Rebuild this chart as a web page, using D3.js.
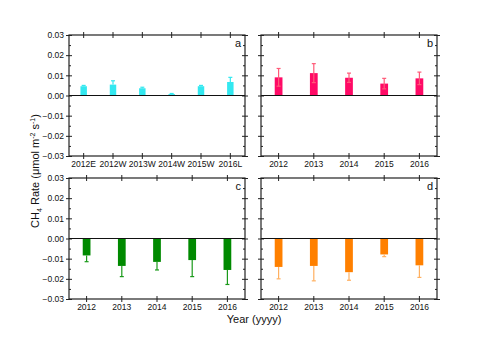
<!DOCTYPE html>
<html>
<head>
<meta charset="utf-8">
<script src="https://cdn.jsdelivr.net/npm/d3@7"></script>
<style>
    body { margin: 0; background: #fff; }
    text { font-family: Arial, "Liberation Sans", sans-serif; fill: #111; }
</style>
</head>
<body>
<div id="chart-area"></div>
<script>
const FIGURE = { WIDTH: 500, HEIGHT: 349 };
const PANEL = { WIDTH: 176, HEIGHT: 121 };
const COLS = [69, 261];
const ROWS = [35, 178];

// data
const seasonsA = ["2012E", "2012W", "2013W", "2014W", "2015W", "2016L"];
const years = ["2012", "2013", "2014", "2015", "2016"];
const ratesA = [0.0046, 0.0054, 0.0036, 0.0007, 0.0046, 0.0067];
const errorsA = [0.0004, 0.0019, 0.0005, 0.0003, 0.0004, 0.0023];
const ratesB = [0.0090, 0.0111, 0.0088, 0.0059, 0.0085];
const errorsB = [0.0044, 0.0047, 0.0023, 0.0026, 0.0031];
const ratesC = [-0.0084, -0.0136, -0.0116, -0.0107, -0.0156];
const errorsC = [0.0031, 0.0053, 0.0040, 0.0082, 0.0072];
const ratesD = [-0.0141, -0.0136, -0.0167, -0.0079, -0.0133];
const errorsD = [0.0059, 0.0074, 0.0040, 0.0011, 0.0060];
const yTicks = [-0.03, -0.02, -0.01, 0, 0.01, 0.02, 0.03];
const yMinor = [-0.025, -0.015, -0.005, 0.005, 0.015, 0.025];

const panels = [
    { label: "a", cats: seasonsA, vals: ratesA, errs: errorsA, col: 0, row: 0, fill: "#33e8f0", err: "#33e8f0", both: false },
    { label: "b", cats: years, vals: ratesB, errs: errorsB, col: 1, row: 0, fill: "#ff0a66", err: "#ff5a78", both: true },
    { label: "c", cats: years, vals: ratesC, errs: errorsC, col: 0, row: 1, fill: "#008a00", err: "#1a9a1a", both: false },
    { label: "d", cats: years, vals: ratesD, errs: errorsD, col: 1, row: 1, fill: "#ff8000", err: "#ffb060", both: false }
];

let svg = d3.select("#chart-area")
    .append("svg")
        .attr("width", FIGURE.WIDTH)
        .attr("height", FIGURE.HEIGHT);

let y = d3.scaleLinear()
    .domain([-0.03, 0.03])
    .range([PANEL.HEIGHT, 0]);

panels.forEach(p => {
    let g = svg.append("g")
        .attr("transform", `translate(${COLS[p.col]}, ${ROWS[p.row]})`);

    let x = d3.scaleBand()
        .domain(p.cats)
        .range([0, PANEL.WIDTH])
        .paddingInner(0.78)
        .paddingOuter(0.39);

    // ticks crossing the frame: outward with labels, inward without
    const addAxis = (axisFn, tf, vals, size, fmt) => {
        let ax = axisFn.tickSize(size).tickPadding(2);
        if (vals) ax.tickValues(vals);
        ax.tickFormat(fmt);
        let a = g.append("g").attr("transform", tf).call(ax);
        a.select(".domain").remove();
        a.selectAll("line").attr("stroke", "#222");
        a.selectAll("text").attr("font-size", "8.5px").attr("fill", "#111");
        return a;
    };

    addAxis(d3.axisBottom(x), `translate(0, ${PANEL.HEIGHT})`, null, 3, d => d);
    addAxis(d3.axisBottom(x), `translate(0, ${PANEL.HEIGHT})`, null, -3, "");
    addAxis(d3.axisTop(x), "translate(0, 0)", null, 3, "");
    addAxis(d3.axisTop(x), "translate(0, 0)", null, -3, "");

    let yFmt = p.col === 0 ? d3.format(".2f") : "";
    addAxis(d3.axisLeft(y), "translate(0, 0)", yTicks, 3, yFmt);
    addAxis(d3.axisLeft(y), "translate(0, 0)", yTicks, -3, "");
    addAxis(d3.axisLeft(y), "translate(0, 0)", yMinor, -2, "");
    addAxis(d3.axisRight(y), `translate(${PANEL.WIDTH}, 0)`, yTicks, 3, "");
    addAxis(d3.axisRight(y), `translate(${PANEL.WIDTH}, 0)`, yTicks, -3, "");
    addAxis(d3.axisRight(y), `translate(${PANEL.WIDTH}, 0)`, yMinor, -2, "");

    let data = p.cats.map((c, i) => ({ cat: c, v: p.vals[i], e: p.errs[i] }));

    // bars
    g.selectAll("rect.bar")
        .data(data)
        .enter()
        .append("rect")
            .attr("class", "bar")
            .attr("x", d => x(d.cat))
            .attr("width", x.bandwidth())
            .attr("y", d => y(Math.max(0, d.v)))
            .attr("height", d => Math.abs(y(d.v) - y(0)))
            .attr("fill", p.fill);

    // error bars
    const tip = d => d.v + Math.sign(d.v) * d.e;
    const base = d => p.both ? d.v - Math.sign(d.v) * d.e : d.v;
    let eg = g.selectAll("g.err")
        .data(data)
        .enter()
        .append("g")
            .attr("class", "err");
    eg.append("line")
        .attr("x1", d => x(d.cat) + x.bandwidth() / 2)
        .attr("x2", d => x(d.cat) + x.bandwidth() / 2)
        .attr("y1", d => y(base(d)))
        .attr("y2", d => y(tip(d)))
        .attr("stroke", p.err)
        .attr("stroke-width", 1.2);
    eg.append("line")
        .attr("x1", d => x(d.cat) + x.bandwidth() / 2 - 2)
        .attr("x2", d => x(d.cat) + x.bandwidth() / 2 + 2)
        .attr("y1", d => y(tip(d)))
        .attr("y2", d => y(tip(d)))
        .attr("stroke", p.err)
        .attr("stroke-width", 1.2);
    if (p.both) {
        eg.append("line")
            .attr("x1", d => x(d.cat) + x.bandwidth() / 2 - 2)
            .attr("x2", d => x(d.cat) + x.bandwidth() / 2 + 2)
            .attr("y1", d => y(base(d)))
            .attr("y2", d => y(base(d)))
            .attr("stroke", p.err)
            .attr("stroke-width", 1.2);
    }

    // zero line
    g.append("line")
        .attr("x1", 0)
        .attr("x2", PANEL.WIDTH)
        .attr("y1", y(0))
        .attr("y2", y(0))
        .attr("stroke", "#111")
        .attr("stroke-width", 1.2);

    // frame
    g.append("rect")
        .attr("width", PANEL.WIDTH)
        .attr("height", PANEL.HEIGHT)
        .attr("fill", "none")
        .attr("stroke", "#222")
        .attr("stroke-width", 1.2);

    g.append("text")
        .attr("x", PANEL.WIDTH - 4)
        .attr("y", 12)
        .attr("text-anchor", "end")
        .attr("font-size", "11px")
        .text(p.label);
});

// axis titles
svg.append("text")
    .attr("x", 254)
    .attr("y", 323)
    .attr("text-anchor", "middle")
    .attr("font-size", "11px")
    .text("Year (yyyy)");

let yTitle = svg.append("text")
    .attr("transform", "translate(39, 171) rotate(-90)")
    .attr("text-anchor", "middle")
    .attr("font-size", "11px");
yTitle.append("tspan").text("CH");
yTitle.append("tspan").attr("font-size", "7px").attr("dy", 3).text("4");
yTitle.append("tspan").attr("dy", -3).text(" Rate (\u03bcmol m");
yTitle.append("tspan").attr("font-size", "7px").attr("dy", -4).text("-2");
yTitle.append("tspan").attr("dy", 4).text(" s");
yTitle.append("tspan").attr("font-size", "7px").attr("dy", -4).text("-1");
yTitle.append("tspan").attr("dy", 4).text(")");
</script>
</body>
</html>
